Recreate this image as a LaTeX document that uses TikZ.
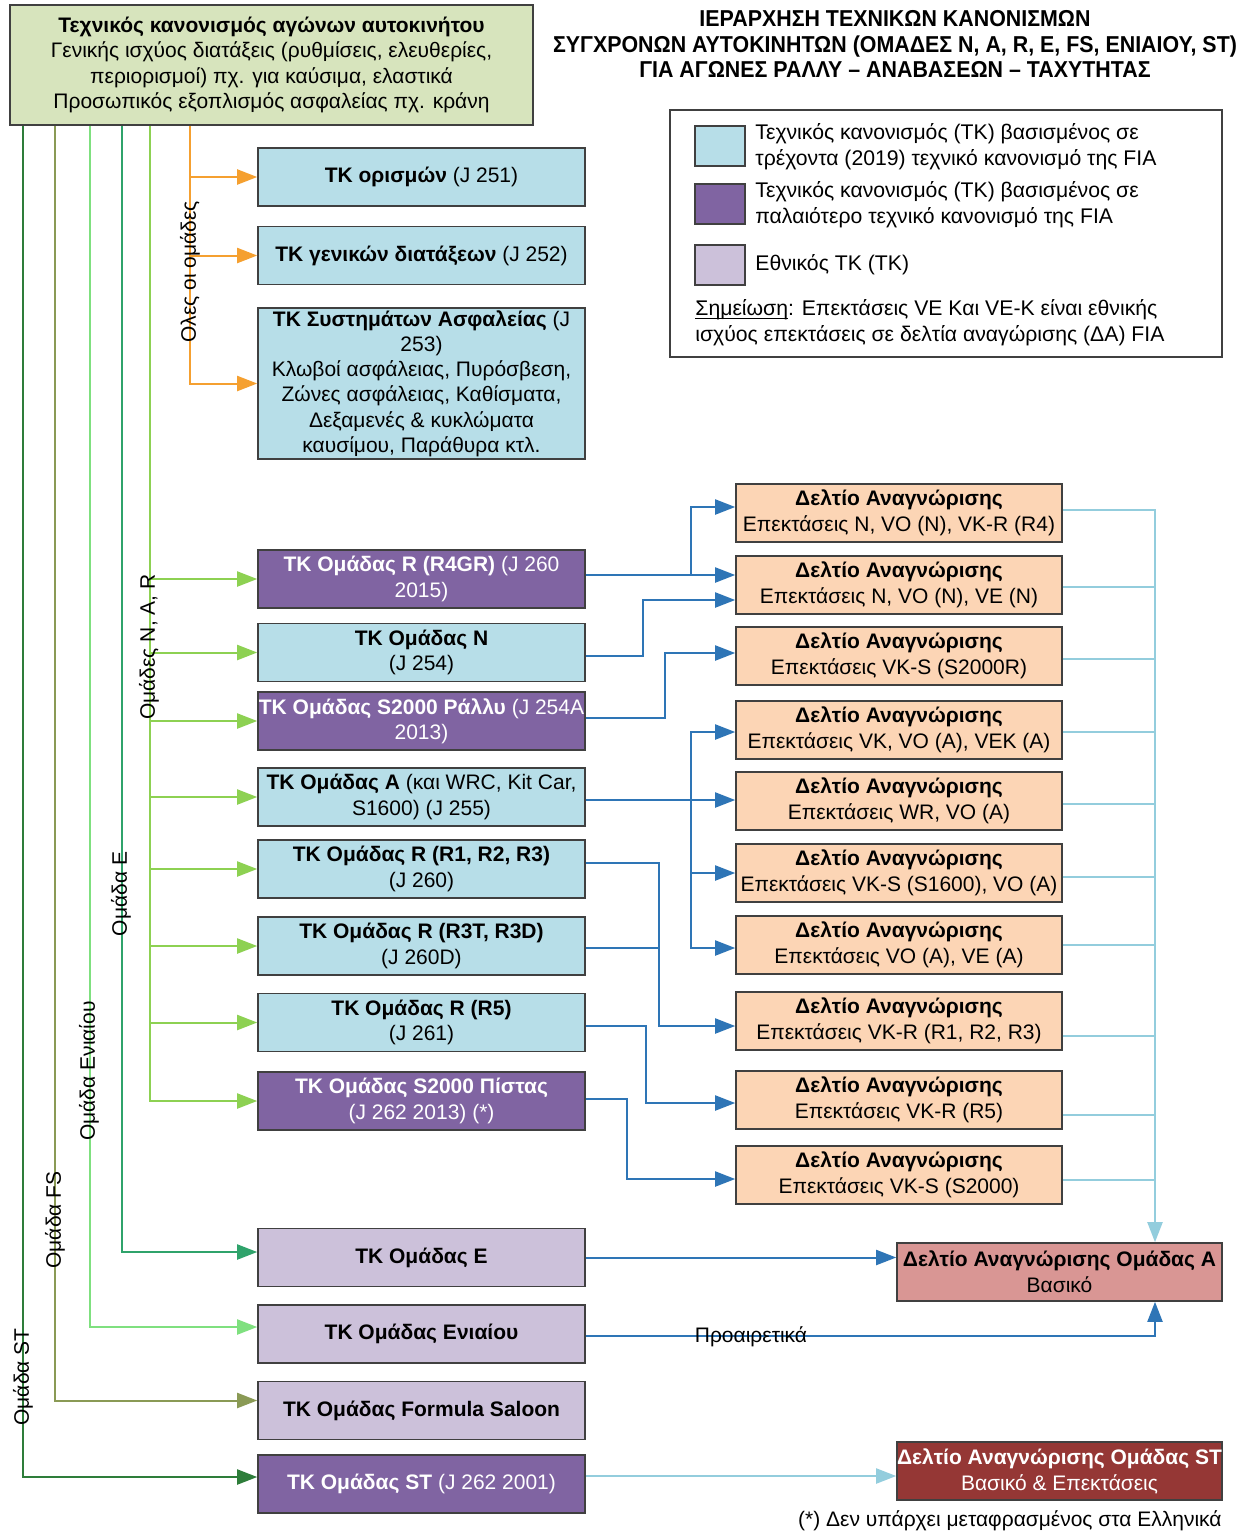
\documentclass[tikz,border=0pt]{standalone}
\usepackage{fontspec}
\usepackage{graphicx}
\setmainfont{Liberation Sans}
\usetikzlibrary{arrows.meta}
\definecolor{bordc}{HTML}{404040}
\definecolor{cblue}{HTML}{B7DEE8}
\definecolor{cpurp}{HTML}{8064A2}
\definecolor{clav}{HTML}{CCC1DA}
\definecolor{cpeach}{HTML}{FCD5B5}
\definecolor{colive}{HTML}{D7E4BD}
\definecolor{cdaa}{HTML}{D99694}
\definecolor{cdast}{HTML}{953735}
\definecolor{lblue}{HTML}{2E75B6}
\definecolor{lcyan}{HTML}{93CDDD}
\definecolor{lorange}{HTML}{F5A030}
\definecolor{gst}{HTML}{2E7D3A}
\definecolor{gfs}{HTML}{8A9A55}
\definecolor{gen}{HTML}{7FE07F}
\definecolor{ge}{HTML}{2FA36B}
\definecolor{gnar}{HTML}{8DD152}
\newcommand{\tline}[1]{\scalebox{0.93}[1]{#1}}
\newcommand{\myul}[1]{\setbox0\hbox{#1}\rlap{\rule[-2pt]{\wd0}{0.5pt}}\box0}
\begin{document}
\begin{tikzpicture}[x=0.5pt,y=-0.5pt,
  every node/.style={font=\fontsize{10.5}{12.6}\selectfont},
  box/.style 2 args={draw=bordc, line width=0.8pt, align=center, inner sep=0pt,
    minimum width=#1*0.5pt, minimum height=#2*0.5pt},
  tkb/.style={box={327}{58}, fill=cblue},
  tkp/.style={box={327}{58}, fill=cpurp, text=white},
  tkl/.style={box={327}{58}, fill=clav},
  dab/.style={box={326}{58}, fill=cpeach, font=\fontsize{10.5}{13}\selectfont},
  swatch/.style={draw=bordc, line width=0.8pt, minimum width=25pt, minimum height=20pt, inner sep=0pt},
  arrtip/.style={-{Triangle[length=10pt,width=7.5pt]}},
  cn/.style={line width=1pt},
  lab/.style={rotate=90, inner sep=0pt},
]
\useasboundingbox (0,0) rectangle (1245,1533);
\fill[white] (0,0) rectangle (1245,1533);

% column x coordinates
\coordinate (xst) at (23,0);
\coordinate (xfs) at (55,0);
\coordinate (xen) at (90,0);
\coordinate (xe) at (122,0);
\coordinate (xn) at (150,0);
\coordinate (xo) at (190,0);
\coordinate (bx1) at (691,0);
\coordinate (bx2) at (643,0);
\coordinate (bx3) at (665,0);
\coordinate (bx5) at (659,0);
\coordinate (bx6) at (646,0);
\coordinate (bx7) at (627,0);
\coordinate (xbus) at (1155,0);

% top box and title
\node[box={523}{120}, fill=colive, font=\fontsize{10.5}{12.7}\selectfont] (top) at (271.5,65)
  {\textbf{Τεχνικός κανονισμός αγώνων αυτοκινήτου}\\Γενικής ισχύος διατάξεις (ρυθμίσεις, ελευθερίες,\\περιορισμοί) πχ. για καύσιμα, ελαστικά\\Προσωπικός εξοπλισμός ασφαλείας πχ. κράνη};
\node[align=center, font=\fontsize{11.5}{12.8}\selectfont\bfseries] (title) at (895,44)
  {\tline{ΙΕΡΑΡΧΗΣΗ ΤΕΧΝΙΚΩΝ ΚΑΝΟΝΙΣΜΩΝ}\\\tline{ΣΥΓΧΡΟΝΩΝ ΑΥΤΟΚΙΝΗΤΩΝ (ΟΜΑΔΕΣ N, A, R, E, FS, ΕΝΙΑΙΟΥ, ST)}\\\tline{ΓΙΑ ΑΓΩΝΕΣ ΡΑΛΛΥ – ΑΝΑΒΑΣΕΩΝ – ΤΑΧΥΤΗΤΑΣ}};

% legend
\node[box={552}{247}, draw=bordc, fill=white] (legend) at (946,233.5) {};
\node[swatch, fill=cblue] (sw1) at (720,146) {};
\node[swatch, fill=cpurp] (sw2) at (720,204) {};
\node[swatch, fill=clav] (sw3) at (720,265) {};
\node[anchor=west, align=left, inner sep=0pt, font=\fontsize{10.6}{13}\selectfont] (lt1) at (755,147)
  {Τεχνικός κανονισμός (ΤΚ) βασισμένος σε\\τρέχοντα (2019) τεχνικό κανονισμό της FIA};
\node[anchor=west, align=left, inner sep=0pt, font=\fontsize{10.6}{13}\selectfont] (lt2) at (755,204.5)
  {Τεχνικός κανονισμός (ΤΚ) βασισμένος σε\\παλαιότερο τεχνικό κανονισμό της FIA};
\node[anchor=west, align=left, inner sep=0pt, font=\fontsize{10.6}{13}\selectfont] (lt3) at (755,265) {Εθνικός ΤΚ (ΤΚ)};
\node[anchor=west, align=left, inner sep=0pt, font=\fontsize{10.6}{13}\selectfont] (note) at (695,322.5)
  {\myul{Σημείωση}: Επεκτάσεις VE Και VE-K είναι εθνικής\\ισχύος επεκτάσεις σε δελτία αναγώρισης (ΔΑ) FIA};

% general regulations
\node[tkb] (j251) at (421.5,177) {\textbf{ΤΚ ορισμών} (J 251)};
\node[tkb] (j252) at (421.5,255.5) {\textbf{ΤΚ γενικών διατάξεων} (J 252)};
\node[box={327}{151}, fill=cblue] (j253) at (421.5,383.5)
  {\textbf{ΤΚ Συστημάτων Ασφαλείας} (J\\253)\\Κλωβοί ασφάλειας, Πυρόσβεση,\\Ζώνες ασφάλειας, Καθίσματα,\\Δεξαμενές \& κυκλώματα\\καυσίμου, Παράθυρα κτλ.};

% group regulations
\node[tkp] (r4) at (421.5,579) {\textbf{ΤΚ Ομάδας R (R4GR)} (J 260\\2015)};
\node[tkb] (gn) at (421.5,652.5) {\textbf{ΤΚ Ομάδας N}\\(J 254)};
\node[tkp] (s2r) at (421.5,721) {\textbf{ΤΚ Ομάδας S2000 Ράλλυ} (J 254A\\2013)};
\node[tkb] (ga) at (421.5,797) {\textbf{ΤΚ Ομάδας A} (και WRC, Kit Car,\\S1600) (J 255)};
\node[tkb] (r1) at (421.5,869) {\textbf{ΤΚ Ομάδας R (R1, R2, R3)}\\(J 260)};
\node[tkb] (r3t) at (421.5,946) {\textbf{ΤΚ Ομάδας R (R3T, R3D)}\\(J 260D)};
\node[tkb] (r5) at (421.5,1022.5) {\textbf{ΤΚ Ομάδας R (R5)}\\(J 261)};
\node[tkp] (s2p) at (421.5,1101) {\textbf{ΤΚ Ομάδας S2000 Πίστας}\\(J 262 2013) (*)};
\node[tkl] (ge) at (421.5,1257.5) {\textbf{ΤΚ Ομάδας Ε}};
\node[tkl] (gen) at (421.5,1334) {\textbf{ΤΚ Ομάδας Ενιαίου}};
\node[tkl] (gfs) at (421.5,1410.5) {\textbf{ΤΚ Ομάδας Formula Saloon}};
\node[tkp] (gst) at (421.5,1484) {\textbf{ΤΚ Ομάδας ST} (J 262 2001)};

% homologation forms
\node[dab] (da1) at (899,513) {\textbf{Δελτίο Αναγνώρισης}\\Επεκτάσεις N, VO (N), VK-R (R4)};
\node[dab] (da2) at (899,585) {\textbf{Δελτίο Αναγνώρισης}\\Επεκτάσεις N, VO (N), VE (N)};
\node[dab] (da3) at (899,656) {\textbf{Δελτίο Αναγνώρισης}\\Επεκτάσεις VK-S (S2000R)};
\node[dab] (da4) at (899,730) {\textbf{Δελτίο Αναγνώρισης}\\Επεκτάσεις VK, VO (A), VEK (A)};
\node[dab] (da5) at (899,801) {\textbf{Δελτίο Αναγνώρισης}\\Επεκτάσεις WR, VO (A)};
\node[dab] (da6) at (899,873) {\textbf{Δελτίο Αναγνώρισης}\\Επεκτάσεις VK-S (S1600), VO (A)};
\node[dab] (da7) at (899,945) {\textbf{Δελτίο Αναγνώρισης}\\Επεκτάσεις VO (A), VE (A)};
\node[dab] (da8) at (899,1021) {\textbf{Δελτίο Αναγνώρισης}\\Επεκτάσεις VK-R (R1, R2, R3)};
\node[dab] (da9) at (899,1100) {\textbf{Δελτίο Αναγνώρισης}\\Επεκτάσεις VK-R (R5)};
\node[dab] (da10) at (899,1175) {\textbf{Δελτίο Αναγνώρισης}\\Επεκτάσεις VK-S (S2000)};
\node[box={325}{58}, fill=cdaa, font=\fontsize{10.5}{13}\selectfont] (daa) at (1059.5,1272) {\textbf{Δελτίο Αναγνώρισης Ομάδας Α}\\Βασικό};
\node[box={325}{58}, fill=cdast, text=white, font=\fontsize{10.5}{13}\selectfont] (dast) at (1059.5,1471) {\textbf{Δελτίο Αναγνώρισης Ομάδας ST}\\Βασικό \& Επεκτάσεις};
\node[anchor=east, inner sep=0pt] (foot) at (1222,1521) {(*) Δεν υπάρχει μεταφρασμένος στα Ελληνικά};

% target points for connectors
\coordinate (t1) at ([yshift=3pt]da1.west);
\coordinate (t2) at ([yshift=-7.5pt]da2.west);
\coordinate (t3) at ([yshift=1.5pt]da3.west);
\coordinate (t8) at ([yshift=-2.5pt]da8.west);
\coordinate (t9) at ([yshift=-1.5pt]da9.west);
\coordinate (t10) at ([yshift=-2pt]da10.west);

% orange connectors (all groups)
\draw[cn, lorange, arrtip] (top.south -| xo) |- (j253.west);
\draw[cn, lorange, arrtip] (xo |- j251.west) -- (j251.west);
\draw[cn, lorange, arrtip] (xo |- j252.west) -- (j252.west);
\node[lab] (lo) at (190,272) {Ολες οι ομάδες};

% green connectors
\draw[cn, gst, arrtip] (top.south -| xst) |- ([yshift=3.5pt]gst.west);
\draw[cn, gfs, arrtip] (top.south -| xfs) |- ([yshift=5pt]gfs.west);
\draw[cn, gen, arrtip] (top.south -| xen) |- ([yshift=3.5pt]gen.west);
\draw[cn, ge, arrtip] (top.south -| xe) |- ([yshift=2.75pt]ge.west);
\draw[cn, gnar, arrtip] (top.south -| xn) |- (s2p.west);
\foreach \t in {r4,gn,s2r,ga,r1,r3t,r5}
  \draw[cn, gnar, arrtip] (xn |- \t.west) -- (\t.west);
\node[lab] (lst) at (23,1377) {Ομάδα ST};
\node[lab] (lfs) at (55,1220) {Ομάδα FS};
\node[lab] (len) at (89,1071) {Ομάδα Ενιαίου};
\node[lab] (le) at (121,894) {Ομάδα Ε};
\node[lab] (lnar) at (149,647) {Ομάδες N, A, R};

% blue connectors to homologation forms
\draw[cn, lblue, arrtip] ([yshift=2pt]r4.east) -- ([yshift=2pt]r4.east -| da2.west);
\draw[cn, lblue, arrtip] ([yshift=2pt]r4.east) -| (bx1 |- t1) -- (t1);
\draw[cn, lblue, arrtip] ([yshift=-1.75pt]gn.east) -| (bx2 |- t2) -- (t2);
\draw[cn, lblue, arrtip] ([yshift=1.5pt]s2r.east) -| (bx3 |- t3) -- (t3);
\draw[cn, lblue, arrtip] ([yshift=-1.5pt]ga.east) -- ([yshift=-1.5pt]ga.east -| da5.west);
\draw[cn, lblue, arrtip] ([yshift=-1.5pt]ga.east -| bx1) |- ([yshift=-1pt]da4.west);
\draw[cn, lblue, arrtip] ([yshift=-1.5pt]ga.east -| bx1) |- ([yshift=-1.5pt]da7.west);
\draw[cn, lblue, arrtip] (bx1 |- da6.west) -- (da6.west);
\draw[cn, lblue, arrtip] ([yshift=3pt]r1.east) -| (bx5 |- t8) -- (t8);
\draw[cn, lblue] ([yshift=-1pt]r3t.east) -- ([yshift=-1pt]r3t.east -| bx5);
\draw[cn, lblue, arrtip] ([yshift=-1.75pt]r5.east) -| (bx6 |- t9) -- (t9);
\draw[cn, lblue, arrtip] ([yshift=1pt]s2p.east) -| (bx7 |- t10) -- (t10);
\draw[cn, lblue, arrtip] (ge.east) -- (ge.east -| daa.west);
\draw[cn, lblue, arrtip] ([yshift=-1pt]gen.east) -| (xbus |- daa.south);
\node[inner sep=0pt] (opt) at (751,1337) {Προαιρετικά};

% light blue bus to group A form
\draw[cn, lcyan, arrtip] ([yshift=1.5pt]da1.east) -| (xbus |- daa.north);
\foreach \t/\s in {da2/-1pt, da3/-1.5pt, da4/-1pt, da5/-1.5pt, da6/-2pt, da7/0pt, da8/-7.5pt, da9/-7.5pt, da10/-2.5pt}
  \draw[cn, lcyan] ([yshift=\s]\t.east) -- ([yshift=\s]\t.east -| xbus);
\draw[cn, lcyan, arrtip] ([yshift=4pt]gst.east) -- ([yshift=4pt]gst.east -| dast.west);
\end{tikzpicture}
\end{document}
